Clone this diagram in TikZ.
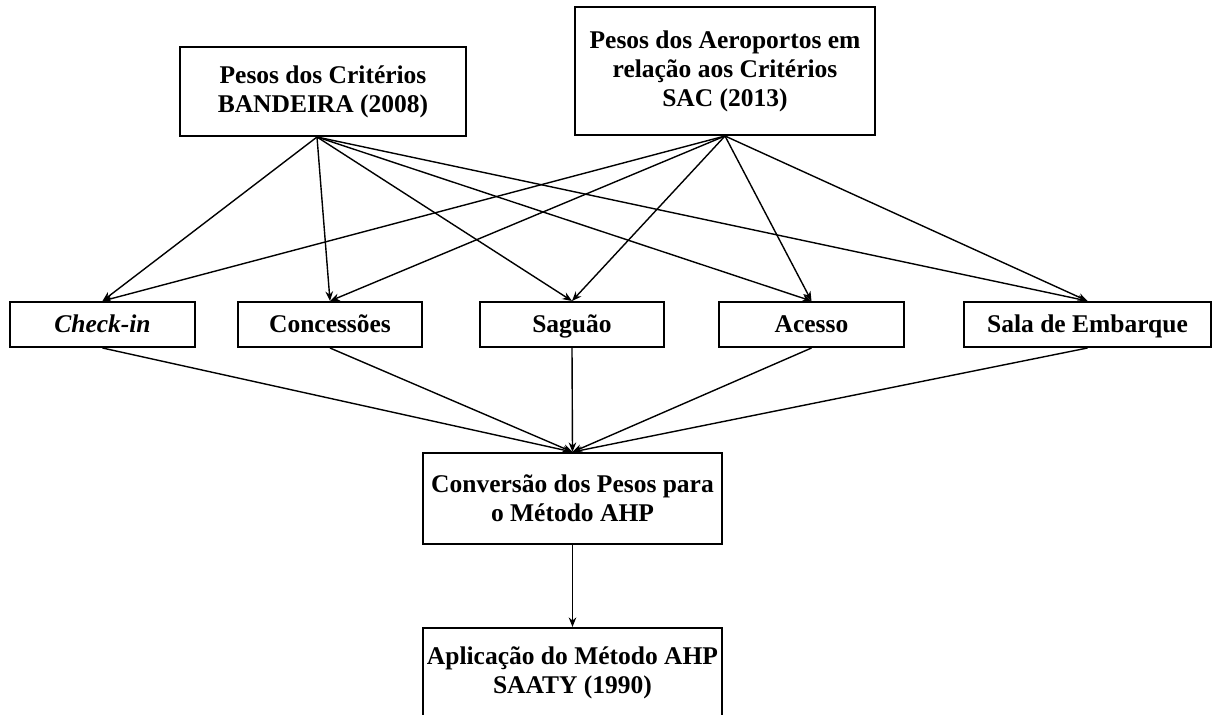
\documentclass[tikz,border=0pt]{standalone}
\usepackage{fontspec}
\setmainfont{Liberation Serif}
\usetikzlibrary{arrows.meta,calc}
\begin{document}
\begin{tikzpicture}[x=0.5pt,y=-0.5pt,
  box/.style={draw, line width=1pt, rectangle, align=center, inner sep=0pt,
    font=\fontsize{12.75pt}{14.5pt}\selectfont\bfseries},
  midbox/.style={box, minimum height=22.5pt, text height=10pt, text depth=2pt},
  conn/.style={line width=0.7pt, -{Stealth[length=4.8pt,width=3.8pt]}}]
\useasboundingbox (0,0) rectangle (1212,715);
\clip (0,0) rectangle (1212,715);
% top boxes
\node[box, minimum width=143pt, minimum height=44.5pt] (pc) at (323,91.5) {Pesos dos Critérios\\BANDEIRA (2008)};
\node[box, minimum width=150pt, minimum height=64pt] (pa) at (725,71) {Pesos dos Aeroportos em\\relação aos Critérios\\SAC (2013)};
% middle row
\node[midbox, minimum width=92.5pt] (ck) at (102.5,324.5) {\itshape Check-in};
\node[midbox, minimum width=92pt] (co) at (330,324.5) {Concessões};
\node[midbox, minimum width=92pt] (sa) at (572,324.5) {Saguão};
\node[midbox, minimum width=92.5pt] (ac) at (811.5,324.5) {Acesso};
\node[midbox, minimum width=123.5pt] (se) at (1087.5,324.5) {Sala de Embarque};
% lower boxes
\node[box, minimum width=149.5pt, minimum height=45.5pt] (cv) at (572.5,498.5) {Conversão dos Pesos para\\o Método AHP};
\node[box, minimum width=149.5pt, minimum height=45pt] (ap) at (572.5,673) {Aplicação do Método AHP\\SAATY (1990)};
% connectors
\coordinate (pcs) at ($(pc.south)+(-6,0)$);
\foreach \t in {ck,co,sa,ac,se}{
  \draw[conn] (pcs) -- (\t.north);
  \draw[conn] (pa.south) -- (\t.north);
  \draw[conn] (\t.south) -- (cv.north);
}
\draw[conn] (cv.south) -- (ap.north);
\end{tikzpicture}
\end{document}
